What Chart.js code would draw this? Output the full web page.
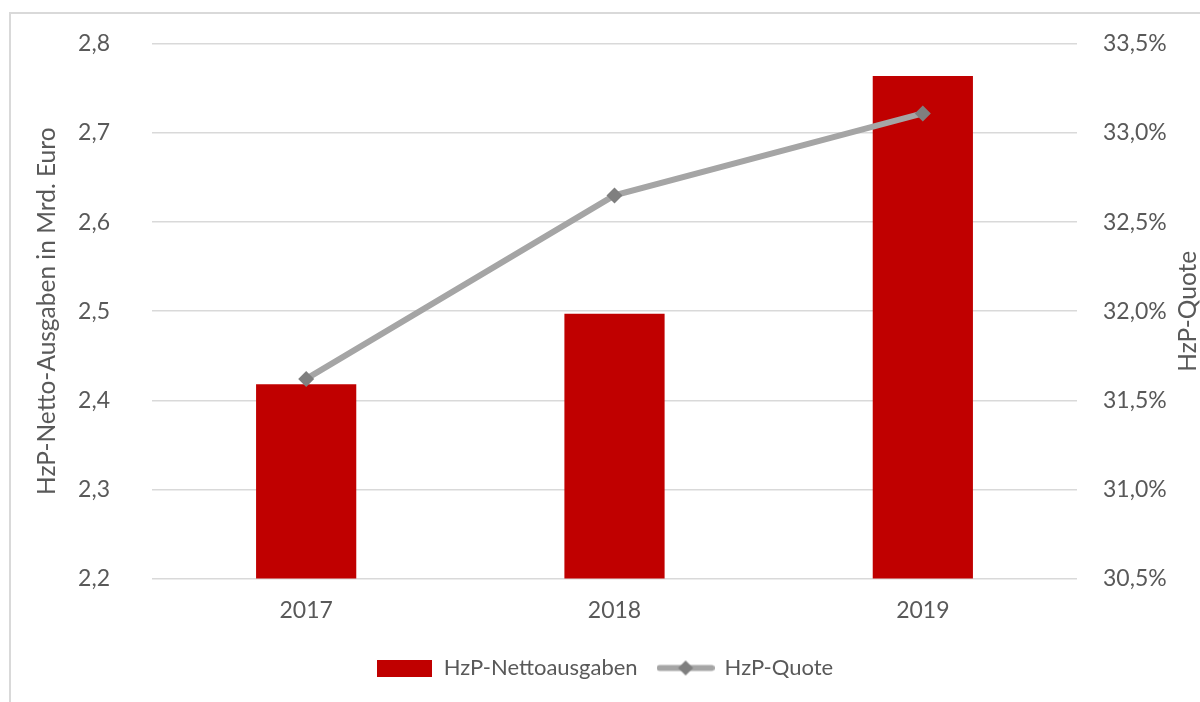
<!DOCTYPE html>
<html>
<head>
<meta charset="utf-8">
<script src="https://cdn.jsdelivr.net/npm/chart.js@4.4.1/dist/chart.umd.min.js"></script>
<style>
  html, body { margin: 0; padding: 0; background: #fff; overflow: hidden; }
  #frame { position: absolute; left: 9px; top: 12px; width: 1400px; height: 900px; border: 2px solid #d9d9d9; }
  #wrap { position: absolute; left: 0; top: 0; width: 1200px; height: 702px; }
</style>
</head>
<body>
<div id="frame"></div>
<div id="wrap"><canvas id="chart"></canvas></div>
<script>
const years = ["2017", "2018", "2019"];
const nettoausgaben = [2.418, 2.497, 2.764];
const quote = [31.62, 32.65, 33.11];
const leftTicks = [2.2, 2.8, 0.1];
const rightTicks = [30.5, 33.5, 0.5];
const seriesNames = ["HzP-Nettoausgaben", "HzP-Quote"];
const axisTitles = ["HzP-Netto-Ausgaben in Mrd. Euro", "HzP-Quote"];

const RED = "#C00000";
const LINE = "#A5A5A5";
const MARK = "#7F7F7F";
const TEXT = "#595959";
const FONT = "Lato";

const comma = (v, d) => v.toFixed(d).replace(".", ",");

// little pictures for the legend
function barSwatch() {
    const c = document.createElement("canvas");
    c.width = 55; c.height = 17;
    const g = c.getContext("2d");
    g.fillStyle = RED;
    g.fillRect(0, 0, 55, 17);
    return c;
}
function lineSwatch() {
    const c = document.createElement("canvas");
    c.width = 58; c.height = 17;
    const g = c.getContext("2d");
    g.strokeStyle = LINE; g.lineWidth = 6; g.lineCap = "round";
    g.beginPath(); g.moveTo(3, 8.5); g.lineTo(55, 8.5); g.stroke();
    g.fillStyle = MARK;
    g.beginPath(); g.moveTo(29, 1); g.lineTo(36.5, 8.5); g.lineTo(29, 16); g.lineTo(21.5, 8.5); g.closePath(); g.fill();
    return c;
}
const swatches = [barSwatch(), lineSwatch()];

const axisTitlePlugin = {
    id: "axisTitles",
    afterDraw: (chart) => {
        const {ctx, chartArea: {left, right, top, bottom}} = chart;
        const midY = (top + bottom) / 2;
        ctx.save();
        ctx.font = "24.5px " + FONT;
        ctx.fillStyle = TEXT;
        ctx.textAlign = "center";
        ctx.textBaseline = "middle";
        [[left - 105, axisTitles[0]], [right + 111, axisTitles[1]]].forEach(([x, t]) => {
            ctx.save();
            ctx.translate(x, midY);
            ctx.rotate(-Math.PI / 2);
            ctx.fillText(t, 0, 0);
            ctx.restore();
        });
        ctx.restore();
    }
};

// keep the tick padding from pushing the plot down
const noVerticalPadding = (s) => { s.paddingTop = 0; s.paddingBottom = 0; };

new Chart(document.getElementById("chart"), {
    data: {
        labels: years,
        datasets: [
            {
                type: "bar",
                label: seriesNames[0],
                data: nettoausgaben,
                backgroundColor: RED,
                yAxisID: "y",
                barPercentage: 0.325,
                categoryPercentage: 1,
                order: 2
            },
            {
                type: "line",
                label: seriesNames[1],
                data: quote,
                borderColor: LINE,
                borderWidth: 6,
                pointStyle: "rectRot",
                pointRadius: 8,
                pointBackgroundColor: MARK,
                pointBorderColor: MARK,
                pointBorderWidth: 0,
                tension: 0,
                yAxisID: "y1",
                order: 1
            }
        ]
    },
    options: {
        responsive: true,
        maintainAspectRatio: false,
        animation: false,
        layout: {padding: {left: 10, right: 0, top: 44, bottom: 13}},
        scales: {
            x: {
                grid: {display: false},
                border: {display: false},
                ticks: {color: TEXT, font: {family: FONT, size: 23}, padding: 10},
                afterFit: (s) => { s.height = 58.6; }
            },
            y: {
                position: "left",
                min: leftTicks[0], max: leftTicks[1],
                ticks: {stepSize: leftTicks[2], color: TEXT, font: {family: FONT, size: 23}, padding: 42,
                    callback: (v) => comma(v, 1)},
                grid: {color: "#D9D9D9", lineWidth: 1.5, drawTicks: false},
                border: {display: false},
                afterFit: (s) => { s.width = 142; noVerticalPadding(s); }
            },
            y1: {
                position: "right",
                min: rightTicks[0], max: rightTicks[1],
                ticks: {stepSize: rightTicks[2], color: TEXT, font: {family: FONT, size: 23}, padding: 26,
                    callback: (v) => comma(v, 1) + "%"},
                grid: {display: false, drawTicks: false},
                border: {display: false},
                afterFit: (s) => { s.width = 123; noVerticalPadding(s); }
            }
        },
        plugins: {
            tooltip: {enabled: false},
            legend: {
                position: "bottom",
                labels: {
                    usePointStyle: true,
                    pointStyleWidth: 56,
                    padding: 20,
                    color: TEXT,
                    font: {family: FONT, size: 22},
                    sort: (a, b) => a.datasetIndex - b.datasetIndex,
                    generateLabels: (chart) => {
                        const items = Chart.defaults.plugins.legend.labels.generateLabels(chart);
                        items.forEach((it) => { it.pointStyle = swatches[it.datasetIndex]; });
                        return items;
                    }
                }
            }
        }
    },
    plugins: [axisTitlePlugin]
});
</script>
</body>
</html>
